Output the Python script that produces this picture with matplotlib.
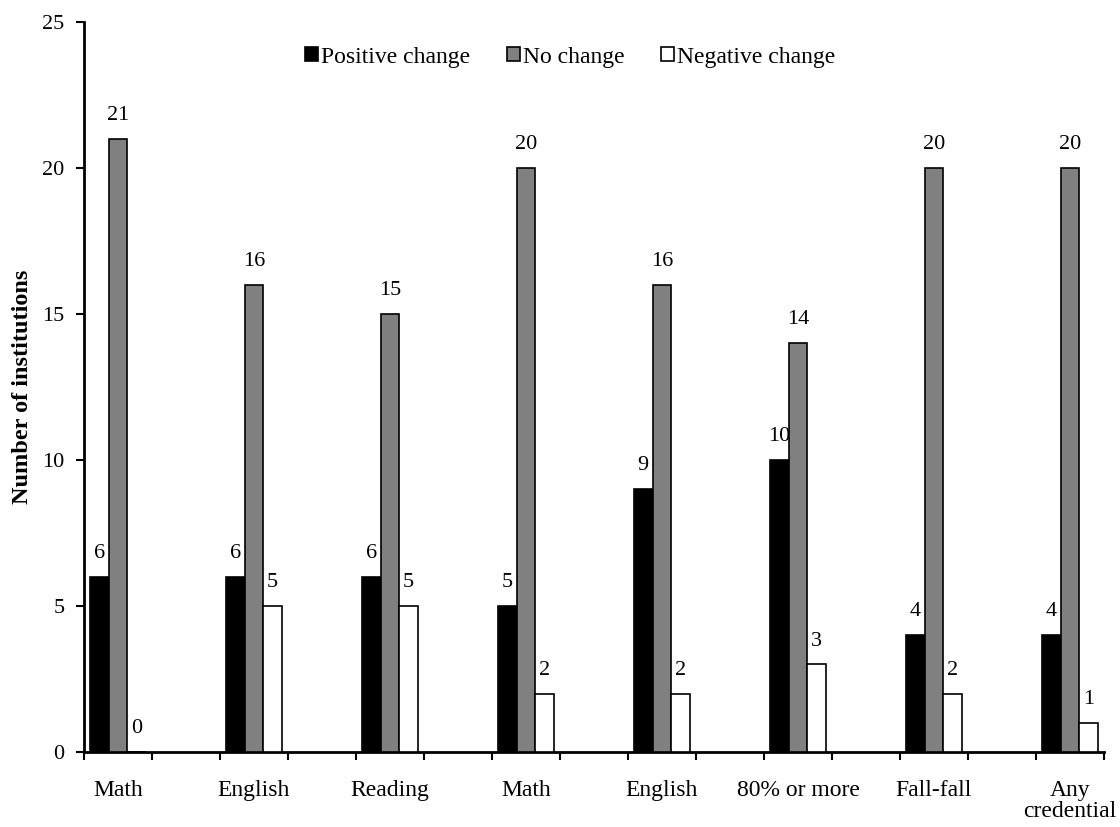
import matplotlib
matplotlib.use("Agg")
import matplotlib.pyplot as plt
import numpy as np

categories = ["Math", "English", "Reading", "Math", "English", "80% or more", "Fall-fall", "Any\ncredential"]
positive = [6, 6, 6, 5, 9, 10, 4, 4]
no_change = [21, 16, 15, 20, 16, 14, 20, 20]
negative = [0, 5, 5, 2, 2, 3, 2, 1]
series_names = ["Positive change", "No change", "Negative change"]
colors = ["#000000", "#808080", "#ffffff"]

plt.rcParams['font.family'] = ['Liberation Serif', 'DejaVu Serif']

fig = plt.figure(figsize=(11.2, 8.27), dpi=100)
ax = fig.add_axes([84/1120, 1-752/827, (1104-84)/1120, (752-22)/827])

n = len(categories)
pos = np.arange(n) * 2  # spacer category between each
w = 0.275
series = [positive, no_change, negative]
handles = []
for i, (vals, c, name) in enumerate(zip(series, colors, series_names)):
    xs = pos + (i - 1) * w
    b = ax.bar(xs, vals, width=w, color=c, edgecolor="black", linewidth=1.2, label=name, zorder=3)
    handles.append(b)
    for x, v in zip(xs, vals):
        ax.annotate(str(v), (x, v), xytext=(0, 10), textcoords="offset points",
                    ha="center", va="bottom", fontsize=16)

ax.set_xlim(-0.5, 2 * n - 1.5)
ax.set_ylim(0, 25)
ax.set_yticks(np.arange(0, 26, 5))
ax.set_xticks(pos)
ax.set_xticklabels(categories, fontsize=17, linespacing=1.0)
ax.set_xticks(np.arange(-0.5, 2 * n - 1.0, 1), minor=True)
ax.tick_params(axis="x", which="major", length=0, pad=20)
ax.tick_params(axis="x", which="minor", length=6, width=1.5, direction="out")
ax.tick_params(axis="y", length=6, width=1.5, direction="out", labelsize=16, pad=8)
for s in ["top", "right"]:
    ax.spines[s].set_visible(False)
for s in ["left", "bottom"]:
    ax.spines[s].set_linewidth(2)
ax.set_ylabel("Number of institutions", fontsize=17.5, fontweight="bold", labelpad=7)

fig.legend(handles=handles, labels=series_names, loc="center", ncol=3,
           bbox_to_anchor=(570/1120, 1-57/827), frameon=False, fontsize=17,
           handlelength=0.55, handleheight=0.55, handletextpad=0.13, columnspacing=1.55)

fig.savefig("out.png", dpi=100)
